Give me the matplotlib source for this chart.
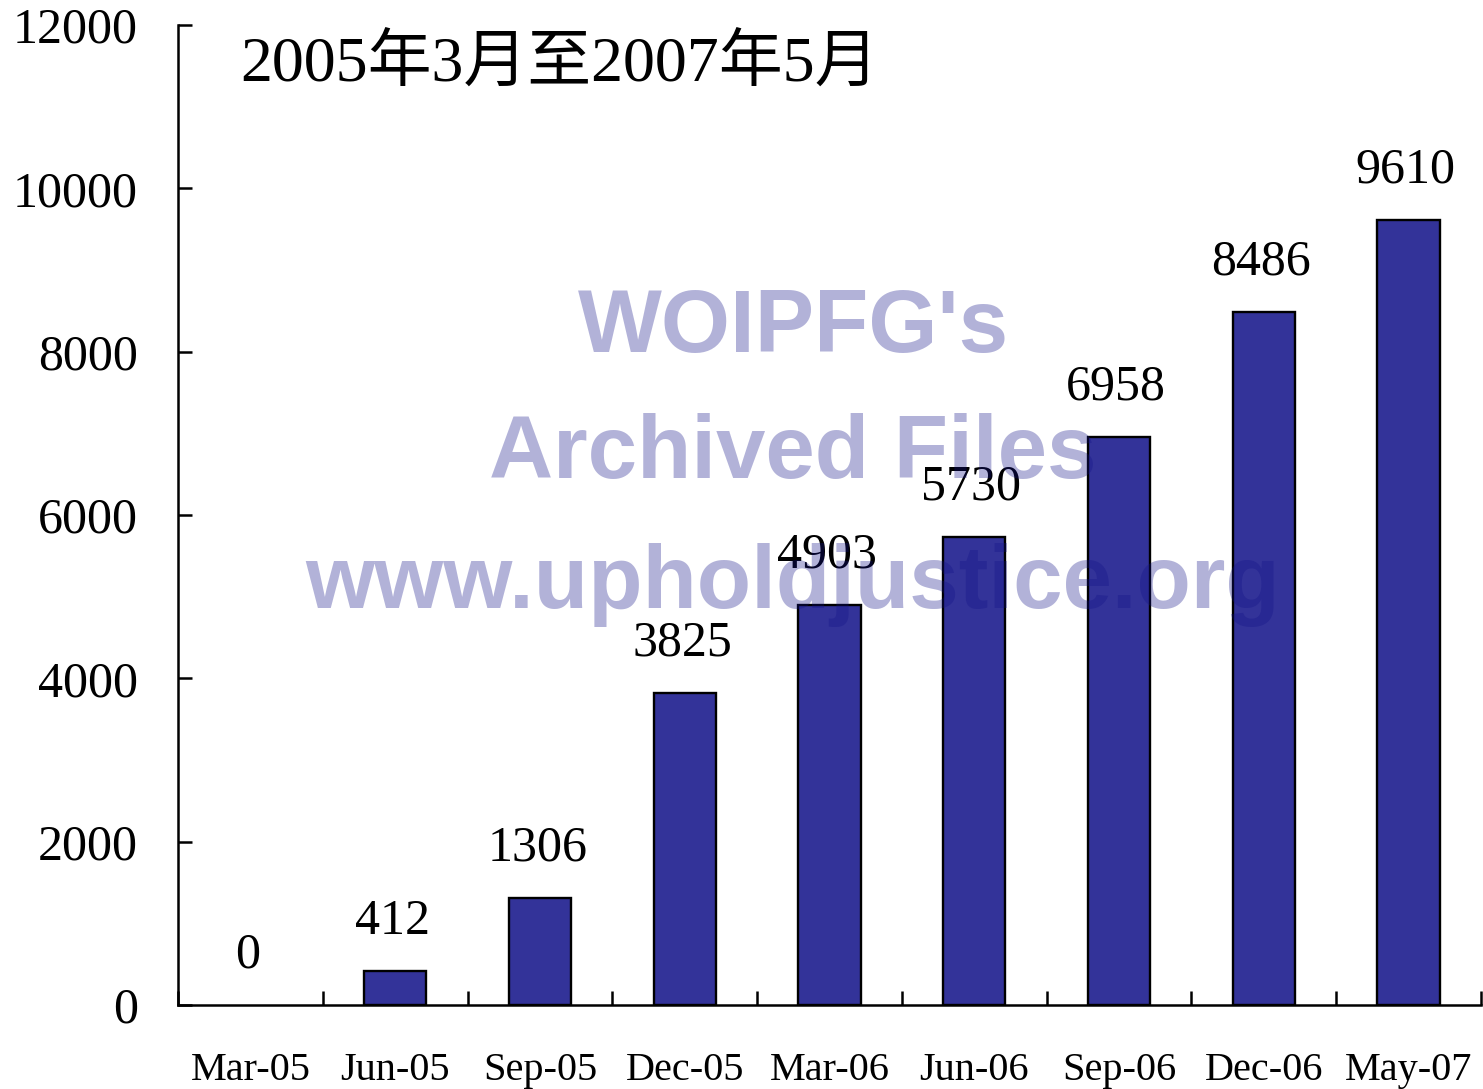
import matplotlib
matplotlib.use("Agg")
import matplotlib.pyplot as plt
from matplotlib.ticker import FixedLocator, NullFormatter

categories = ["Mar-05", "Jun-05", "Sep-05", "Dec-05", "Mar-06", "Jun-06", "Sep-06", "Dec-06", "May-07"]
values = [0, 412, 1306, 3825, 4903, 5730, 6958, 8486, 9610]
y_ticks = [0, 2000, 4000, 6000, 8000, 10000, 12000]
title = "2005年3月至2007年5月"
watermark_lines = ["WOIPFG's", "Archived Files", "www.upholdjustice.org"]

serif = ["Liberation Serif", "DejaVu Serif"]
plt.rcParams["font.family"] = serif

W, H = 1483, 1089
fig = plt.figure(figsize=(W / 100, H / 100), dpi=100)
ax = fig.add_axes([178 / W, 1 - 1005 / H, (1481 - 178) / W, (1005 - 25) / H])

x = list(range(len(categories)))
ax.bar(x, values, width=0.43, color="#333399", edgecolor="black",
       linewidth=[0 if v == 0 else 1.7 for v in values], zorder=2)

ax.set_xlim(-0.5, len(categories) - 0.5)
ax.set_ylim(0, 12000)
ax.set_yticks(y_ticks)
ax.set_yticklabels([str(v) for v in y_ticks], fontsize=36)
ax.set_xticks(x)
ax.set_xticklabels(categories, fontsize=29)
ax.xaxis.set_minor_locator(FixedLocator([i + 0.5 for i in range(-1, len(categories))]))
ax.xaxis.set_minor_formatter(NullFormatter())

ax.tick_params(axis="x", which="major", length=0, pad=34)
ax.tick_params(axis="x", which="minor", direction="in", length=10, width=1.8)
ax.tick_params(axis="y", direction="in", length=10, width=1.8, pad=29)

for s in ["top", "right"]:
    ax.spines[s].set_visible(False)
for s in ["left", "bottom"]:
    ax.spines[s].set_linewidth(1.8)
    ax.spines[s].set_zorder(5)

for xi, v in zip(x, values):
    ax.annotate(str(v), (xi, v), xytext=(-2, 19), textcoords="offset points",
                ha="center", va="bottom", fontsize=36, zorder=6)

# watermark
wm_font = ["Liberation Sans Narrow", "Liberation Sans", "DejaVu Sans"]
wm_base = [352, 478, 608]
for line, yb in zip(watermark_lines, wm_base):
    fig.text(793 / W, 1 - yb / H, line, ha="center", va="baseline",
             fontsize=64, fontweight="bold", family=wm_font,
             color="#111188", alpha=0.32, zorder=4)

fig.text(240 / W, 1 - 82 / H, title, ha="left", va="baseline", fontsize=46,
         family=["Liberation Serif", "Noto Sans CJK SC"], zorder=6)

fig.savefig("out.png", dpi=100)
